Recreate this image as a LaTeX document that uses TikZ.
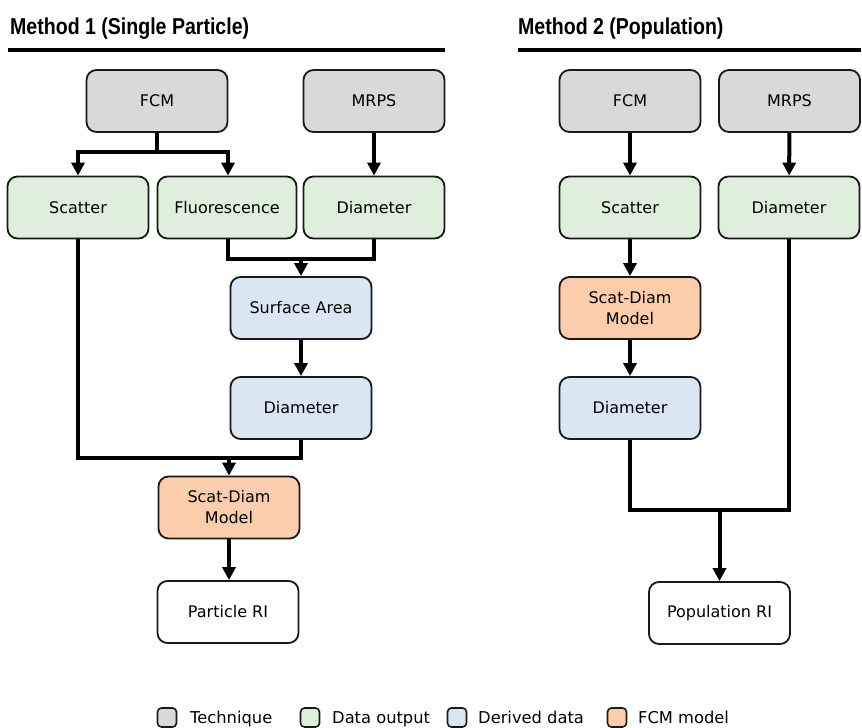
\documentclass[tikz,border=0pt]{standalone}
\usepackage{fontspec}
\usepackage{graphicx}
\setmainfont{DejaVu Sans}
\newfontfamily\titlefont{Liberation Sans}[BoldFont={Liberation Sans Bold}]
\usetikzlibrary{arrows.meta}
\definecolor{cgray}{RGB}{217,217,217}
\definecolor{cgreen}{RGB}{222,239,219}
\definecolor{cblue}{RGB}{218,230,243}
\definecolor{corange}{RGB}{252,205,172}
\definecolor{cborder}{RGB}{25,25,25}
\newcommand\mytitle[1]{\scalebox{0.85}[1]{\titlefont\bfseries\fontsize{23}{26}\selectfont #1}}
\tikzset{
  box/.style={draw=cborder, line width=1.8pt, rounded corners=10pt, minimum width=141pt, minimum height=62pt, align=center, inner sep=0pt, font=\fontsize{16}{21}\selectfont},
  tech/.style={box, fill=cgray},
  dout/.style={box, fill=cgreen},
  dder/.style={box, fill=cblue},
  fmod/.style={box, fill=corange},
  res/.style={box, fill=white},
  line/.style={line width=4pt, draw=black, line join=miter},
  arr/.style={line, -{Triangle[width=13pt,length=13pt]}},
  rule/.style={line width=3.5pt, draw=black},
  legbox/.style={draw=cborder, line width=1.6pt, rounded corners=4pt, minimum width=19pt, minimum height=19pt, inner sep=0pt},
  legtext/.style={anchor=base west, inner sep=0pt, font=\fontsize{16.3}{18}\selectfont}
}
\begin{document}
\begin{tikzpicture}[x=1pt,y=-1pt]
\useasboundingbox (0,0) rectangle (862,728);
% titles
\node[anchor=base west, inner sep=0pt] (t1) at (10,34) {\mytitle{Method 1 (Single Particle)}};
\node[anchor=base west, inner sep=0pt] (t2) at (518,34) {\mytitle{Method 2 (Population)}};
\coordinate (r1a) at (8,50); \coordinate (r1b) at (445,50);
\coordinate (r2a) at (518,50); \coordinate (r2b) at (861,50);
\draw[rule] (r1a) -- (r1b);
\draw[rule] (r2a) -- (r2b);
% Method 1 nodes
\node[tech] (fcm1) at (157,101) {FCM};
\node[tech] (mrps1) at (374,101) {MRPS};
\node[dout] (scat1) at (78,207.5) {Scatter};
\node[dout, minimum width=139pt] (fluo1) at (227,207.5) {Fluorescence};
\node[dout] (diam1) at (374,207.5) {Diameter};
\node[dder] (surf1) at (301,308) {Surface Area};
\node[dder] (dder1) at (301,408) {Diameter};
\node[fmod] (sdm1) at (229,507.5) {Scat-Diam\\Model};
\node[res] (pri) at (228,612) {Particle RI};
% Method 2 nodes
\node[tech] (fcm2) at (630,101) {FCM};
\node[tech] (mrps2) at (789.5,101) {MRPS};
\node[dout] (scat2) at (630,207.5) {Scatter};
\node[dout] (diam2) at (789,207.5) {Diameter};
\node[fmod] (sdm2) at (630,308) {Scat-Diam\\Model};
\node[dder] (dder2) at (630,408) {Diameter};
\node[res] (pop) at (719.5,613) {Population RI};
% junctions
\coordinate (j1) at (157,152);
\coordinate (j2) at (301,259);
\coordinate (j3) at (229,458);
\coordinate (j4) at (719.5,510);
% Method 1 connectors
\draw[line] (fcm1.south) -- (j1);
\draw[arr] (j1) -| (scat1.north);
\draw[arr] (j1) -| ([xshift=1pt]fluo1.north);
\draw[arr] (mrps1) -- (diam1);
\draw[line] ([xshift=1pt]fluo1.south) |- (j2) -| (diam1.south);
\draw[arr] (j2) -- (surf1.north);
\draw[arr] (surf1) -- (dder1);
\draw[line] (scat1.south) |- (j3) -| (dder1.south);
\draw[arr] (j3) -- (sdm1.north);
\draw[arr] (sdm1.south) -- (pri.north -| sdm1.south);
% Method 2 connectors
\draw[arr] (fcm2) -- (scat2);
\draw[arr] (mrps2) -- (diam2);
\draw[arr] (scat2) -- (sdm2);
\draw[arr] (sdm2) -- (dder2);
\draw[line] (dder2.south) |- (j4) -| (diam2.south);
\draw[arr] (j4) -- (pop.north);
% legend
\node[legbox, fill=cgray] (l1) at (167,717.5) {};
\node[legtext] (lt1) at (190,723) {Technique};
\node[legbox, fill=cgreen] (l2) at (310,717.5) {};
\node[legtext] (lt2) at (332,723) {Data output};
\node[legbox, fill=cblue] (l3) at (457,717.5) {};
\node[legtext] (lt3) at (478,723) {Derived data};
\node[legbox, fill=corange] (l4) at (617,717.5) {};
\node[legtext] (lt4) at (638,723) {FCM model};
\end{tikzpicture}
\end{document}
